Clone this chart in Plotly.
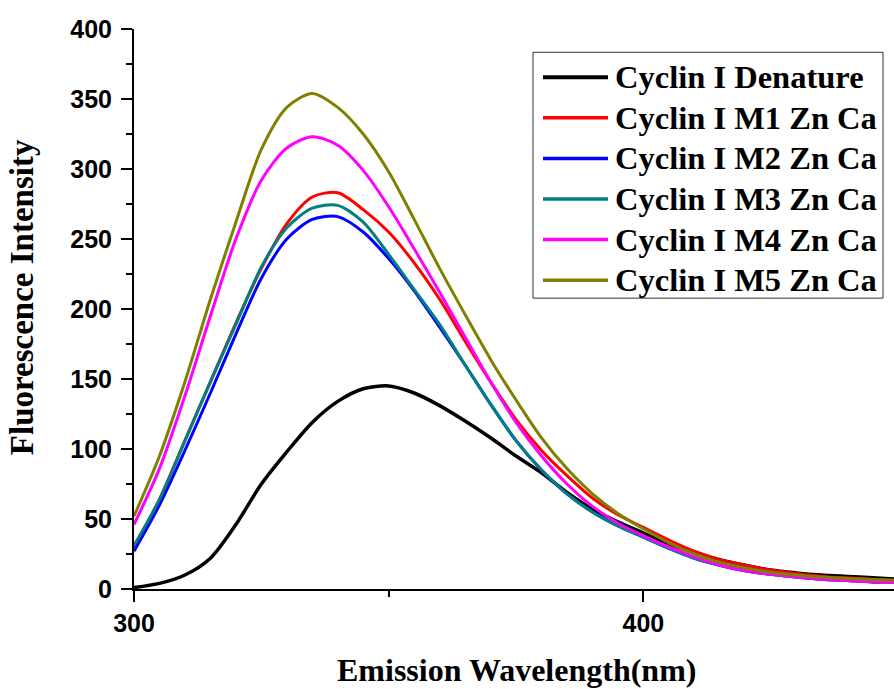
import plotly.graph_objects as go

wavelength = [300, 305, 310, 315, 320, 325, 330, 335, 340, 345, 350, 355, 360, 365, 370,
              375, 380, 385, 390, 395, 400, 405, 410, 415, 420, 425, 430, 435, 440, 445, 450]

denature = [1, 4, 10, 22, 46, 75, 98, 119, 134, 143, 145, 140, 131, 120, 108,
            95, 83, 69, 57, 48, 40, 32, 26, 21, 17, 13.5, 11.5, 10, 9, 8, 7]
m1 = [30, 64, 106, 148, 190, 229, 261, 280, 283, 271, 255, 233, 207, 177, 148,
      121, 99, 81, 65, 53, 44, 35, 27, 21, 17, 13.5, 11, 9, 8, 7, 6]
m2 = [27, 60, 99, 140, 182, 222, 250, 264, 266, 255, 236, 213, 187, 160, 132,
      106, 85, 68, 55, 45, 37, 29, 22, 17, 13, 10.5, 8.5, 7, 6, 5, 4.5]
m3 = [31, 64, 106, 148, 189, 230, 258, 272, 274, 262, 239, 214, 189, 160, 132,
      106, 85, 68, 55, 45, 37, 29, 22, 17, 13, 10.5, 8.5, 7, 6, 5, 4.5]
m4 = [46, 86, 138, 195, 250, 292, 315, 323, 317, 299, 273, 243, 212, 180, 148,
      119, 95, 75, 59, 47, 38, 30, 23, 17, 13, 10.5, 8.5, 7, 6, 5, 4.5]
m5 = [52, 95, 148, 207, 262, 314, 344, 354, 344, 325, 298, 264, 229, 196, 164,
      135, 108, 86, 68, 54, 43, 33, 25, 19, 15, 12, 10, 8.5, 7.5, 6.8, 6.2]

names = ["Cyclin I Denature", "Cyclin I M1 Zn Ca", "Cyclin I M2 Zn Ca",
         "Cyclin I M3 Zn Ca", "Cyclin I M4 Zn Ca", "Cyclin I M5 Zn Ca"]
series = [denature, m1, m2, m3, m4, m5]
colors = ["#000000", "#FF0000", "#0000FF", "#008080", "#FF00FF", "#808000"]
widths = [3.5, 3, 3, 3, 3, 3]

fig = go.Figure()
for name, ys, c, w in zip(names, series, colors, widths):
    fig.add_trace(go.Scatter(x=wavelength, y=ys, mode="lines", name=name, showlegend=False,
                             line=dict(color=c, width=w, shape="spline", smoothing=0.8)))

tickfont = dict(family="Liberation Sans, Arial", size=25, color="black", weight="bold")
serif = "Liberation Serif, Times New Roman"

# plot-area geometry (pixels) used to place the hand-built legend in paper units
L, R, T, B = 134, 894, 28.7, 589.0
def px(xp):
    return (xp - L) / (R - L)
def py(yp):
    return (B - yp) / (B - T)

shapes = [dict(type="rect", xref="paper", yref="paper",
               x0=px(533), x1=px(883), y0=py(298), y1=py(52),
               line=dict(color="#333333", width=1), fillcolor="white", layer="above")]
annotations = []
row0, step = 77.0, 40.6
for i, (name, c, w) in enumerate(zip(names, colors, widths)):
    yc = row0 + i * step
    shapes.append(dict(type="line", xref="paper", yref="paper",
                       x0=px(543), x1=px(608), y0=py(yc), y1=py(yc),
                       line=dict(color=c, width=w + 0.5), layer="above"))
    annotations.append(dict(text=name, xref="paper", yref="paper", x=px(613), y=py(yc),
                            xanchor="left", yanchor="middle", showarrow=False,
                            font=dict(family=serif, size=32.5, color="black", weight="bold")))

annotations += [
    dict(text="Fluorescence Intensity", xref="paper", yref="paper",
         x=px(22), y=py(297), xanchor="center", yanchor="middle", textangle=-90,
         showarrow=False, font=dict(family=serif, size=33, color="black", weight="bold")),
    dict(text="Emission Wavelength(nm)", xref="paper", yref="paper",
         x=px(516), y=py(670), xanchor="center", yanchor="middle",
         showarrow=False, font=dict(family=serif, size=32, color="black", weight="bold")),
]

fig.update_layout(
    width=894, height=689,
    margin=dict(l=134, r=0, t=29, b=100),
    paper_bgcolor="white", plot_bgcolor="white",
    showlegend=False,
    xaxis=dict(range=[300, 449.2], showgrid=False, zeroline=False,
               showline=True, linecolor="black", linewidth=2,
               ticks="outside", ticklen=11, tickwidth=2, tickcolor="black",
               tick0=300, dtick=100, tickfont=tickfont,
               minor=dict(ticks="outside", ticklen=6, tickwidth=2, tickcolor="black", dtick=50)),
    yaxis=dict(range=[0, 400], showgrid=False, zeroline=False,
               showline=True, linecolor="black", linewidth=2,
               ticks="outside", ticklen=11, tickwidth=2, tickcolor="black",
               tick0=0, dtick=50, tickfont=tickfont, ticklabelstandoff=4,
               minor=dict(ticks="outside", ticklen=6, tickwidth=2, tickcolor="black", dtick=25)),
    shapes=shapes,
    annotations=annotations,
)

fig.write_html("out.html")
